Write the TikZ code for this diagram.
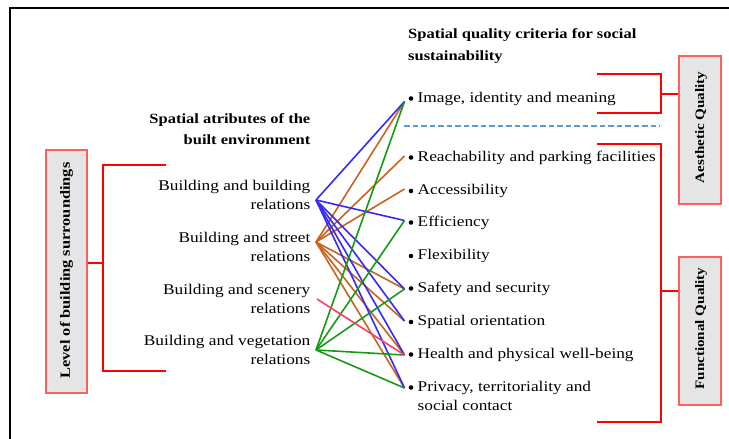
\documentclass[tikz,border=0pt]{standalone}
\usepackage{fontspec}
\setmainfont{Liberation Serif}[FakeStretch=1.17]
\definecolor{cblue}{RGB}{55,40,255}
\definecolor{corange}{RGB}{200,100,30}
\definecolor{cgreen}{RGB}{20,155,20}
\definecolor{cpink}{RGB}{255,60,100}
\definecolor{bracketred}{RGB}{255,0,0}
\definecolor{boxred}{RGB}{255,95,95}
\definecolor{dashblue}{RGB}{91,155,213}
\begin{document}
\begin{tikzpicture}[x=1pt,y=-1pt,
  lbl/.style={font=\fontsize{14.8}{19}\selectfont, inner sep=0pt},
  ttl/.style={font=\fontsize{14.1}{21}\selectfont\bfseries, inner sep=0pt},
  vlabel/.style={font=\fontsize{12.9}{15}\selectfont\bfseries, inner sep=0pt, rotate=90},
  bracket/.style={draw=bracketred, line width=2pt},
  qbox/.style={draw=boxred, fill=gray!20, line width=1.3pt, inner sep=0pt},
  link/.style={line width=1.6pt},
  dot/.style={circle, fill=black, inner sep=0pt, minimum size=4.6pt}]
\clip (0,0) rectangle (729,439);
\fill[white] (0,0) rectangle (729,439);
% frame
\draw[line width=2pt] (9.5,460) -- (9.5,8) -- (760,8);

% titles
\node[ttl, anchor=base west] (rt1) at (408,38) {Spatial quality criteria for social};
\node[ttl, anchor=base west] (rt2) at (408,60) {sustainability};
\node[ttl, anchor=base east] (lt1) at (310.5,123) {Spatial atributes of the};
\node[ttl, anchor=base east] (lt2) at (310.5,144) {built environment};

% left attribute labels
\node[lbl, anchor=base east] (a1) at (310.5,190.5) {Building and building};
\node[lbl, anchor=base east] (a1b) at (310.5,209.5) {relations};
\node[lbl, anchor=base east] (a2) at (310.5,242.5) {Building and street};
\node[lbl, anchor=base east] (a2b) at (310.5,261.5) {relations};
\node[lbl, anchor=base east] (a3) at (310.5,294.5) {Building and scenery};
\node[lbl, anchor=base east] (a3b) at (310.5,313.5) {relations};
\node[lbl, anchor=base east] (a4) at (310.5,345.5) {Building and vegetation};
\node[lbl, anchor=base east] (a4b) at (310.5,364.5) {relations};

% criteria items
\node[dot] (bImg) at (411,98.5) {};
\node[dot] (bRea) at (411,157.5) {};
\node[dot] (bAcc) at (411,191) {};
\node[dot] (bEff) at (411,222.5) {};
\node[dot] (bFle) at (411,256) {};
\node[dot] (bSaf) at (411,288.5) {};
\node[dot] (bSpa) at (411,322) {};
\node[dot] (bHea) at (411,354.5) {};
\node[dot] (bPri) at (411,387.5) {};
\node[lbl, anchor=base west] (iImg) at (417.5,102) {Image, identity and meaning};
\node[lbl, anchor=base west] (iRea) at (417.5,161) {Reachability and parking facilities};
\node[lbl, anchor=base west] (iAcc) at (417.5,194.5) {Accessibility};
\node[lbl, anchor=base west] (iEff) at (417.5,226) {Efficiency};
\node[lbl, anchor=base west] (iFle) at (417.5,259.5) {Flexibility};
\node[lbl, anchor=base west] (iSaf) at (417.5,292) {Safety and security};
\node[lbl, anchor=base west] (iSpa) at (417.5,325.5) {Spatial orientation};
\node[lbl, anchor=base west] (iHea) at (417.5,358) {Health and physical well-being};
\node[lbl, anchor=base west] (iPri) at (417.5,391) {Privacy, territoriality and};
\node[lbl, anchor=base west] (iPri2) at (417.5,410) {social contact};

% connection points
\coordinate (sBB) at (316,200);
\coordinate (sBS) at (316,242);
\coordinate (sBC) at (317,299);
\coordinate (sBV) at (316,350);
\coordinate (tImg) at (404.5,101.5);
\coordinate (tRea) at (404.5,156);
\coordinate (tAcc) at (404.5,189);
\coordinate (tEff) at (404.5,220.5);
\coordinate (tSaf) at (404.5,289);
\coordinate (tSpa) at (404.5,321);
\coordinate (tHea) at (404.5,355);
\coordinate (tPri) at (404.5,388);

% links
\foreach \t in {tImg,tRea,tAcc,tSaf,tSpa,tHea,tPri}
  \draw[link, corange] (sBS) -- (\t);
\foreach \t in {tImg,tEff,tSaf,tSpa,tHea,tPri}
  \draw[link, cblue] (sBB) -- (\t);
\foreach \t in {tImg,tEff,tSaf,tHea,tPri}
  \draw[link, cgreen] (sBV) -- (\t);
\draw[link, cpink] (sBC) -- (tHea);

% dashed separator
\coordinate (d1) at (404,126);
\coordinate (d2) at (660,126);
\draw[dashblue, line width=1.4pt, dash pattern=on 5.5pt off 3pt] (d1) -- (d2);

% brackets
\draw[bracket] (166,165) -- (103,165) -- (103,371) -- (166,371);
\draw[bracket] (597,74) -- (661,74) -- (661,113) -- (597,113);
\draw[bracket] (597,144) -- (661,144) -- (661,422) -- (597,422);

% boxes
\node[qbox, minimum width=41pt, minimum height=243pt] (lvl) at (66.5,271.5) {};
\node[vlabel, font=\fontsize{14}{16}\selectfont\bfseries] (lvlt) at (66.5,270.5) {Level of building surroundings};
\node[qbox, minimum width=42pt, minimum height=148pt] (aes) at (700,130) {};
\node[vlabel] (aest) at (701,127.5) {Aesthetic Quality};
\node[qbox, minimum width=42pt, minimum height=148pt] (fun) at (700,331) {};
\node[vlabel] (funt) at (701,328.5) {Functional Quality};

% bracket connectors
\coordinate (lc) at (103,263);
\draw[bracket] (lc) -- (lc -| lvl.east);
\coordinate (ac) at (661,94);
\draw[bracket] (ac) -- (ac -| aes.west);
\coordinate (fc) at (661,291);
\draw[bracket] (fc) -- (fc -| fun.west);
\end{tikzpicture}
\end{document}
